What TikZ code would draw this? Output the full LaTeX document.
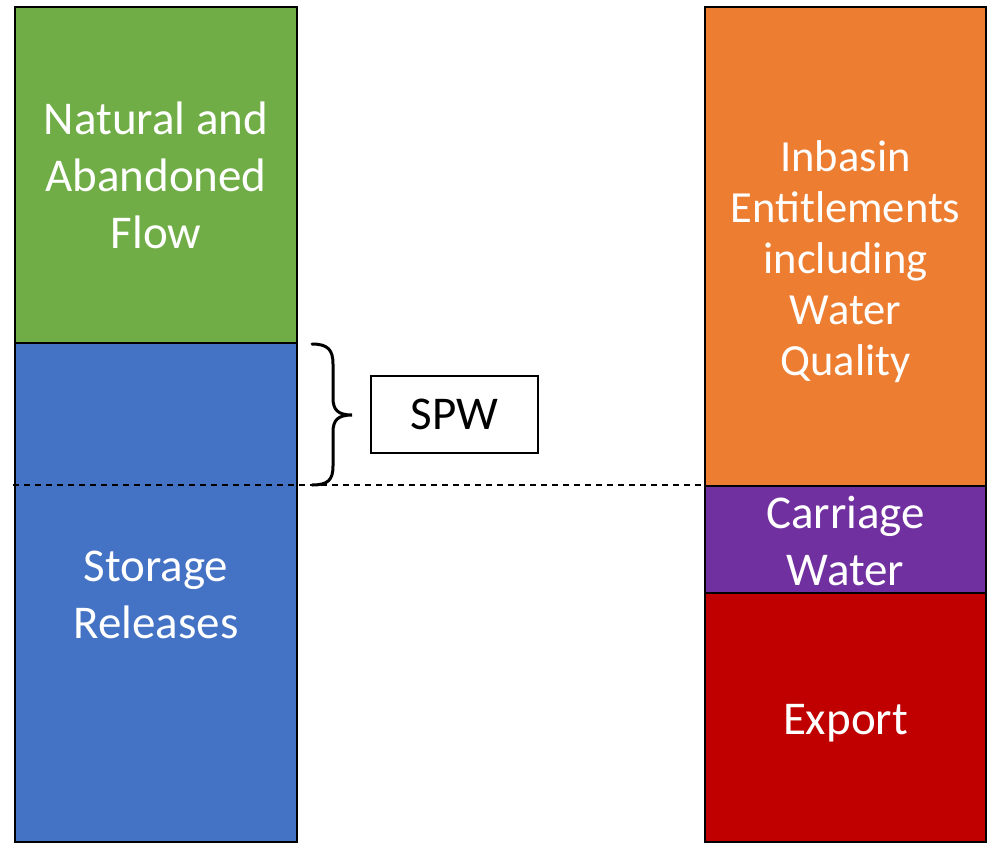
\documentclass[tikz,border=0pt]{standalone}
\usepackage{fontspec}
\setmainfont{Carlito}
\begin{document}
\begin{tikzpicture}[x=1pt,y=-1pt,
  bar/.style={draw=black, line width=2.2pt, inner sep=0pt, align=center, text=white,
    font=\fontsize{47}{57}\selectfont},
  bartext/.style={text=white, align=center, font=\fontsize{47}{57}\selectfont},
  labelbox/.style={draw=black, line width=1.4pt, inner sep=0pt, align=center, text=black,
    font=\fontsize{47}{57}\selectfont}]
\useasboundingbox (0,0) rectangle (987,843);
\definecolor{cgreen}{HTML}{70AD47}
\definecolor{cblue}{HTML}{4472C4}
\definecolor{corange}{HTML}{ED7D31}
\definecolor{cpurple}{HTML}{7030A0}
\definecolor{cred}{HTML}{C00000}
% left column
\node[bar, fill=cgreen, minimum width=282pt, minimum height=336pt] (nat) at (156,175) {Natural and\\Abandoned\\Flow};
\node[bar, fill=cblue, minimum width=282pt, minimum height=499pt] (sto) at (156,592.5) {};
\node[bartext] (stot) at (156,595) {Storage\\Releases};
% right column
\node[bar, fill=corange, minimum width=281pt, minimum height=479pt] (inb) at (845.5,246.5) {};
\node[bartext, font=\fontsize{44.5}{51}\selectfont] (inbt) at (845.5,261.5) {Inbasin\\Entitlements\\including\\Water\\Quality};
\node[bar, fill=cpurple, minimum width=281pt, minimum height=107pt] (car) at (845.5,539.5) {};
\node[bartext] (cart) at (845.5,540.5) {Carriage\\Water};
\node[bar, fill=cred, minimum width=281pt, minimum height=249pt] (exp) at (845.5,717.5) {};
\node[bartext] (expt) at (845.5,723) {Export};
% dashed line
\coordinate (dl) at (13,485);
\coordinate (dr) at (705,485);
\draw[line width=1.5pt, dash pattern=on 6pt off 5pt] (dl) -- (dr);
% brace
\coordinate (bt) at (312,344);
\coordinate (bb) at (312,485);
\coordinate (btip) at (352,415);
\draw[line width=3pt, line cap=round] (bt) .. controls (328,344) and (333,350) .. (333,364)
  -- (333,398) .. controls (333,410) and (338,415) .. (btip)
  .. controls (338,415) and (333,420) .. (333,432)
  -- (333,466) .. controls (333,480) and (328,485) .. (bb);
% SPW
\node[labelbox, fill=white, minimum width=167pt, minimum height=77pt] (spw) at (454.5,414.5) {SPW};
\end{tikzpicture}
\end{document}
